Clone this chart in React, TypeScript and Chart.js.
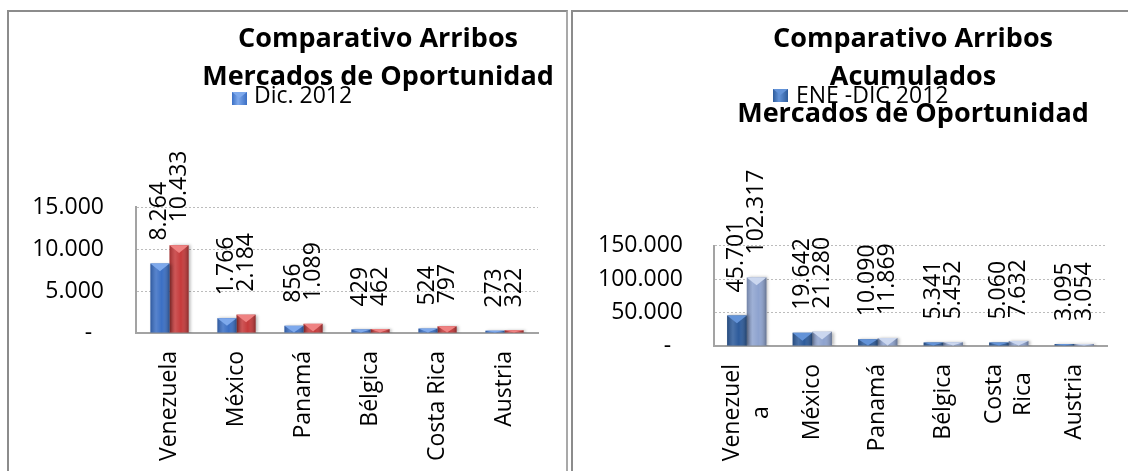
import React, { useEffect, useRef } from "react";
import { Chart, registerables } from "chart.js";
Chart.register(...registerables);

const FONT = "'Open Sans', 'DejaVu Sans', sans-serif";
const TEXT_SIZE = 23;
Chart.defaults.font.family = FONT;

// ---------- data ----------
const monthCategories = ["Venezuela", "México", "Panamá", "Bélgica", "Costa Rica", "Austria"];
const accumCategories = ["Venezuel\na", "México", "Panamá", "Bélgica", "Costa\nRica", "Austria"];

const monthSeriesLabels = ["Dic. 2012", "Serie 2"];
const monthSeriesA = [8264, 1766, 856, 429, 524, 273];
const monthSeriesB = [10433, 2184, 1089, 462, 797, 322];

const accumSeriesLabels = ["ENE -DIC 2012", "Serie 2"];
const accumSeriesA = [45701, 19642, 10090, 5341, 5060, 3095];
const accumSeriesB = [102317, 21280, 11869, 5452, 7632, 3054];

const monthAxis = [0, 15000, 5000]; // min, max, step
const accumAxis = [0, 150000, 50000];

const monthTitle = ["Comparativo Arribos", "Mercados de Oportunidad"];
const accumTitle = ["Comparativo Arribos", "Acumulados", "Mercados de Oportunidad"];

// ---------- helpers ----------
function fmt(v: number): string {
  return Math.round(v).toString().replace(/\B(?=(\d{3})+(?!\d))/g, ".");
}

type Spec = {
  left: number; top: number; w: number; h: number;
  padTop: number; padRight: number; yAxisW: number; xAxisH: number;
  catPct: number; yPad: number;
  titleX: number; titleBaselines: number[]; title: string[];
  legendBox: [number, number]; legendTextX: number; legendBaseline: number;
  categories: string[]; seriesLabels: string[]; series: number[][];
  colors: string[]; topColors: string[]; axis: number[];
};

const monthSpec: Spec = {
  left: 9, top: 12, w: 558, h: 459,
  padTop: 195, padRight: 29, yAxisW: 127, xAxisH: 138,
  catPct: 0.57, yPad: 32,
  titleX: 369, titleBaselines: [35, 73], title: monthTitle,
  legendBox: [223, 80], legendTextX: 245, legendBaseline: 91,
  categories: monthCategories, seriesLabels: monthSeriesLabels,
  series: [monthSeriesA, monthSeriesB],
  colors: ["#3b6fc4", "#c53a3b"], topColors: ["#7ea9ec", "#ef8282"],
  axis: monthAxis,
};

const accumSpec: Spec = {
  left: 573, top: 12, w: 555, h: 459,
  padTop: 233.5, padRight: 21, yAxisW: 141, xAxisH: 125,
  catPct: 0.6, yPad: 31,
  titleX: 340, titleBaselines: [35, 73, 110], title: accumTitle,
  legendBox: [200, 77], legendTextX: 223, legendBaseline: 91,
  categories: accumCategories, seriesLabels: accumSeriesLabels,
  series: [accumSeriesA, accumSeriesB],
  colors: ["#2d5b9b", "#8ea3cf"], topColors: ["#6393d8", "#cbd7ef"],
  axis: accumAxis,
};

function makeDecor(spec: Spec) {
  return {
    id: "decor",
    beforeDatasetsDraw(chart: any) {
      const ctx = chart.ctx;
      ctx.save();
      ctx.shadowColor = "rgba(0,0,0,0.28)";
      ctx.shadowOffsetX = 2;
      ctx.shadowOffsetY = 0;
      ctx.shadowBlur = 3;
    },
    afterDatasetsDraw(chart: any) {
      const ctx = chart.ctx;
      ctx.restore();
      chart.data.datasets.forEach((ds: any, di: number) => {
        const meta = chart.getDatasetMeta(di);
        meta.data.forEach((el: any, i: number) => {
          const { x, y, base, width } = el.getProps(["x", "y", "base", "width"], true);
          const l = x - width / 2;
          const r = x + width / 2;
          const hh = base - y;
          ctx.save();
          const g = ctx.createLinearGradient(l, 0, r, 0);
          g.addColorStop(0, "rgba(0,0,0,0.20)");
          g.addColorStop(0.3, "rgba(255,255,255,0.14)");
          g.addColorStop(0.6, "rgba(255,255,255,0)");
          g.addColorStop(1, "rgba(0,0,0,0.30)");
          ctx.fillStyle = g;
          ctx.fillRect(l, y, width, hh);
          const t = Math.min(width * 0.4, hh);
          ctx.beginPath();
          ctx.moveTo(l, y);
          ctx.lineTo(r, y);
          ctx.lineTo(x, y + t);
          ctx.closePath();
          ctx.fillStyle = spec.topColors[di];
          ctx.fill();
          ctx.restore();

          // data label
          ctx.save();
          ctx.font = `${TEXT_SIZE}px ${FONT}`;
          ctx.fillStyle = "#000";
          ctx.textAlign = "left";
          ctx.textBaseline = "middle";
          ctx.translate(x, y - 23);
          ctx.rotate(-Math.PI / 2);
          ctx.fillText(fmt(ds.data[i]), 0, 0);
          ctx.restore();
        });
      });
    },
    afterDraw(chart: any) {
      const ctx = chart.ctx;
      // title
      ctx.save();
      ctx.font = `bold 27px ${FONT}`;
      ctx.fillStyle = "#000";
      ctx.textAlign = "center";
      ctx.textBaseline = "alphabetic";
      spec.title.forEach((line, i) => ctx.fillText(line, spec.titleX, spec.titleBaselines[i]));
      ctx.restore();

      // legend (first series)
      ctx.save();
      const [bx, by] = spec.legendBox;
      const bw = 15, bh = 13;
      const lg = ctx.createLinearGradient(bx, 0, bx + bw, 0);
      lg.addColorStop(0, spec.colors[0]);
      lg.addColorStop(0.4, spec.topColors[0]);
      lg.addColorStop(1, spec.colors[0]);
      ctx.fillStyle = lg;
      ctx.fillRect(bx, by, bw, bh);
      ctx.beginPath();
      ctx.moveTo(bx, by);
      ctx.lineTo(bx + bw, by);
      ctx.lineTo(bx + bw / 2, by + 6);
      ctx.closePath();
      ctx.fillStyle = spec.topColors[0];
      ctx.fill();
      ctx.font = `${TEXT_SIZE}px ${FONT}`;
      ctx.fillStyle = "#000";
      ctx.textAlign = "left";
      ctx.textBaseline = "alphabetic";
      ctx.fillText(chart.data.datasets[0].label, spec.legendTextX, spec.legendBaseline);
      ctx.restore();

      // category labels (rotated, multi-line centred)
      const xs = chart.scales.x;
      ctx.save();
      ctx.font = `${TEXT_SIZE}px ${FONT}`;
      ctx.fillStyle = "#000";
      ctx.textBaseline = "middle";
      ctx.textAlign = "center";
      const lh = 29;
      chart.data.labels.forEach((lab: string, i: number) => {
        const lines = lab.split("\n");
        const px = xs.getPixelForValue(i);
        const maxW = Math.max(...lines.map((s) => ctx.measureText(s).width));
        const cy = xs.top + 18 + maxW / 2;
        lines.forEach((s, j) => {
          const lx = px + (j - (lines.length - 1) / 2) * lh;
          ctx.save();
          ctx.translate(lx, cy);
          ctx.rotate(-Math.PI / 2);
          ctx.fillText(s, 0, 0);
          ctx.restore();
        });
      });
      ctx.restore();
    },
  };
}

function buildConfig(spec: Spec): any {
  return {
    type: "bar",
    data: {
      labels: spec.categories,
      datasets: spec.series.map((vals, i) => ({
        label: spec.seriesLabels[i],
        data: vals,
        backgroundColor: spec.colors[i],
        borderWidth: 0,
        categoryPercentage: spec.catPct,
        barPercentage: 1,
      })),
    },
    options: {
      responsive: false,
      animation: false,
      events: [],
      layout: { padding: { left: 0, right: spec.padRight, top: spec.padTop, bottom: 0 } },
      plugins: {
        legend: { display: false },
        title: { display: false },
        tooltip: { enabled: false },
      },
      scales: {
        x: {
          grid: { display: false, drawTicks: false },
          border: { display: true, color: "#a3a3a3", width: 2 },
          ticks: { display: false },
          afterFit: (s: any) => { s.height = spec.xAxisH; },
        },
        y: {
          min: spec.axis[0],
          max: spec.axis[1],
          ticks: {
            stepSize: spec.axis[2],
            padding: spec.yPad,
            color: "#000",
            font: { size: TEXT_SIZE, family: FONT },
            callback: (v: any) => (Number(v) === 0 ? "-  " : fmt(Number(v))),
          },
          grid: { color: "#bcbcbc", lineWidth: 1, drawTicks: false },
          border: { display: true, color: "#a3a3a3", width: 2, dash: [2, 2] },
          afterFit: (s: any) => { s.width = spec.yAxisW; },
        },
      },
    },
    plugins: [makeDecor(spec)],
  };
}

function BarPanel({ spec }: { spec: Spec }) {
  const ref = useRef<HTMLCanvasElement>(null);
  useEffect(() => {
    const chart = new Chart(ref.current as HTMLCanvasElement, buildConfig(spec));
    return () => chart.destroy();
  }, [spec]);
  return (
    <canvas
      ref={ref}
      width={spec.w}
      height={spec.h}
      style={{ position: "absolute", left: spec.left, top: spec.top, width: spec.w, height: spec.h }}
    />
  );
}

export default function App() {
  return (
    <div
      style={{
        position: "fixed", left: 0, top: 0, width: 1128, height: 471,
        overflow: "hidden", background: "#fff",
      }}
    >
      <div
        style={{
          position: "absolute", left: 7, top: 10, width: 561, height: 520,
          boxSizing: "border-box", border: "2px solid #8c8c8c", borderRightColor: "#a9a9a9",
        }}
      />
      <div
        style={{
          position: "absolute", left: 571, top: 10, width: 620, height: 520,
          boxSizing: "border-box", border: "2px solid #8c8c8c",
        }}
      />
      <BarPanel spec={monthSpec} />
      <BarPanel spec={accumSpec} />
    </div>
  );
}
